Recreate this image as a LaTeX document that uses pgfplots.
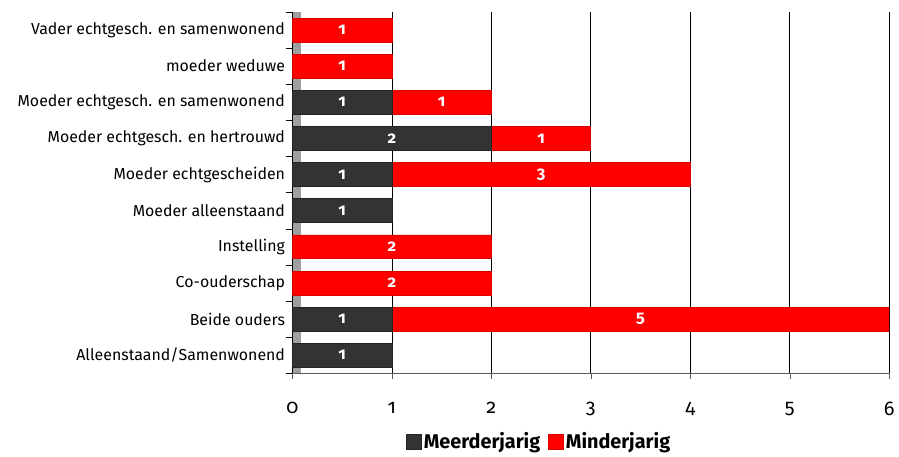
\documentclass[border={10pt 0pt 0pt 0pt}]{standalone}
\usepackage{fontspec}
\setmainfont{Fira Sans}
\usepackage{pgfplots}
\pgfplotsset{compat=1.18}

\definecolor{meer}{HTML}{333333}
\definecolor{minder}{HTML}{FF0000}

\begin{document}
\begin{tikzpicture}
  \begin{axis}[
      name=main,
      scale only axis,
      width=451pt, height=273pt,
      xbar stacked, bar width=18pt,
      xmin=0, xmax=6,
      ymin=-0.5, ymax=9.5,
      axis x line*=bottom,
      axis y line*=left,
      x axis line style={gray!70!black},
      xmajorgrids,
      major grid style={black, thin},
      xtick={0,...,6},
      x tick label style={font=\fontsize{15}{15}\selectfont\addfontfeatures{Numbers=OldStyle}, yshift=-14pt},
      /pgf/number format/assume math mode=true,
      xtick align=outside,
      xtick style={gray!70!black},
      ytick={0,...,9},
      yticklabels={Alleenstaand/Samenwonend, Beide ouders, Co-ouderschap, Instelling,
        Moeder alleenstaand, Moeder echtgescheiden, Moeder echtgesch. en hertrouwd,
        Moeder echtgesch. en samenwonend, moeder weduwe, Vader echtgesch. en samenwonend},
      y tick label style={font=\fontsize{12}{12}\selectfont, xshift=-2pt},
      ytick style={draw=none},
      extra y ticks={-0.5,0.5,...,9.5},
      extra y tick labels={},
      extra y tick style={ytick style={draw=black}, tick align=outside, major tick length=5pt},
      y axis line style={draw=black, double=gray!75, double distance=6pt, xshift=3.5pt, thin},
      legend style={at={(0.414,-0.19)}, anchor=center, draw=none,
        legend columns=-1, font=\fontsize{15}{15}\selectfont\bfseries,
        /tikz/every even column/.append style={column sep=4pt}},
      legend image code/.code={\fill[#1] (0pt,-5.5pt) rectangle (11pt,5.5pt);},
    ]
    \addplot[draw=meer!70!black, fill=meer]
      coordinates {(1,0) (1,1) (0,2) (0,3) (1,4) (1,5) (2,6) (1,7) (0,8) (0,9)};
    \addplot[draw=minder!85!black, fill=minder]
      coordinates {(0,0) (5,1) (2,2) (2,3) (0,4) (3,5) (1,6) (1,7) (1,8) (1,9)};
    \legend{Meerderjarig, Minderjarig}
  \end{axis}
  \begin{axis}[
      scale only axis,
      width=451pt, height=273pt,
      xmin=0, xmax=6,
      ymin=-0.5, ymax=9.5,
      hide axis,
    ]
    \addplot[draw=none, mark=none, nodes near coords, point meta=explicit symbolic,
      nodes near coords style={anchor=center, text=white,
        font=\fontsize{12.5}{12.5}\selectfont\bfseries\addfontfeatures{Numbers=OldStyle}}]
      coordinates {
        (0.5,0) [1]
        (0.5,1) [1] (3.5,1) [5]
        (1,2) [2]
        (1,3) [2]
        (0.5,4) [1]
        (0.5,5) [1] (2.5,5) [3]
        (1,6) [2] (2.5,6) [1]
        (0.5,7) [1] (1.5,7) [1]
        (0.5,8) [1]
        (0.5,9) [1]
      };
  \end{axis}
  \path ([yshift=9pt]main.north west);
\end{tikzpicture}
\end{document}
